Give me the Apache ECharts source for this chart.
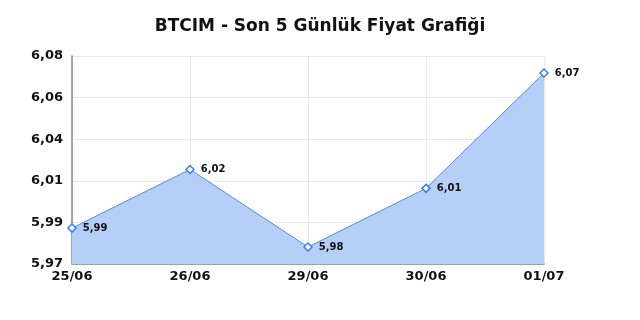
<!DOCTYPE html>
<html>
<head>
<meta charset="UTF-8">
<title></title>
<script src="https://cdn.jsdelivr.net/npm/echarts@6/dist/echarts.min.js"></script>
<style>
  html, body { margin: 0; padding: 0; background: #fff; }
  #chart { width: 640px; height: 320px; }
</style>
</head>
<body>
<div id="chart"></div>
<script>
var days = ['25/06', '26/06', '29/06', '30/06', '01/07'];
var prices = [5.989, 6.020, 5.979, 6.010, 6.071];
// y axis: 5,97 .. 6,08 in 5 equal steps
var yBase = 5.97;
var yTop = 6.08;
var ySteps = 5;

function fmt(v) {
  return v.toFixed(2).replace('.', ',');
}

// plot as thousandths above the base so the tick interval starts at min
var span = Math.round((yTop - yBase) * 1000);
var plotted = prices.map(function (p) {
  return { value: (p - yBase) * 1000, price: p };
});

var myChart = echarts.init(document.getElementById('chart'));
var option = {
  animation: false,
  title: {
    text: 'BTCIM - Son 5 Günlük Fiyat Grafiği',
    left: 'center',
    top: 13,
    textStyle: { fontFamily: 'DejaVu Sans', fontWeight: 'bold', fontSize: 17, color: '#111' }
  },
  grid: { left: 72, right: 96, top: 56, bottom: 56 },
  xAxis: {
    type: 'category',
    boundaryGap: false,
    data: days,
    axisLine: { lineStyle: { color: '#888', width: 1.5 } },
    axisTick: { show: false },
    axisLabel: { fontFamily: 'DejaVu Sans', fontWeight: 'bold', fontSize: 13, color: '#111', margin: 6 },
    splitLine: { show: true, lineStyle: { color: '#e8e8e8' } }
  },
  yAxis: {
    type: 'value',
    min: 0,
    max: span,
    interval: span / ySteps,
    axisLine: { show: true, lineStyle: { color: '#888', width: 1.5 } },
    axisTick: { show: false },
    axisLabel: {
      fontFamily: 'DejaVu Sans', fontWeight: 'bold', fontSize: 13, color: '#111', margin: 9,
      formatter: function (v) { return fmt(yBase + v / 1000); }
    },
    splitLine: { lineStyle: { color: '#e8e8e8' } }
  },
  series: [{
    type: 'line',
    data: plotted,
    symbol: 'diamond',
    symbolSize: 8,
    itemStyle: { color: '#fff', borderColor: '#3a7ef0', borderWidth: 1.5 },
    lineStyle: { color: '#4d8cf2', width: 1 },
    areaStyle: { color: '#b6cff8', opacity: 1 },
    label: {
      show: true,
      position: 'right',
      distance: 6,
      fontFamily: 'DejaVu Sans', fontWeight: 'bold', fontSize: 10, color: '#111',
      formatter: function (p) { return fmt(p.data.price); }
    }
  }]
};
myChart.setOption(option);
</script>
</body>
</html>
